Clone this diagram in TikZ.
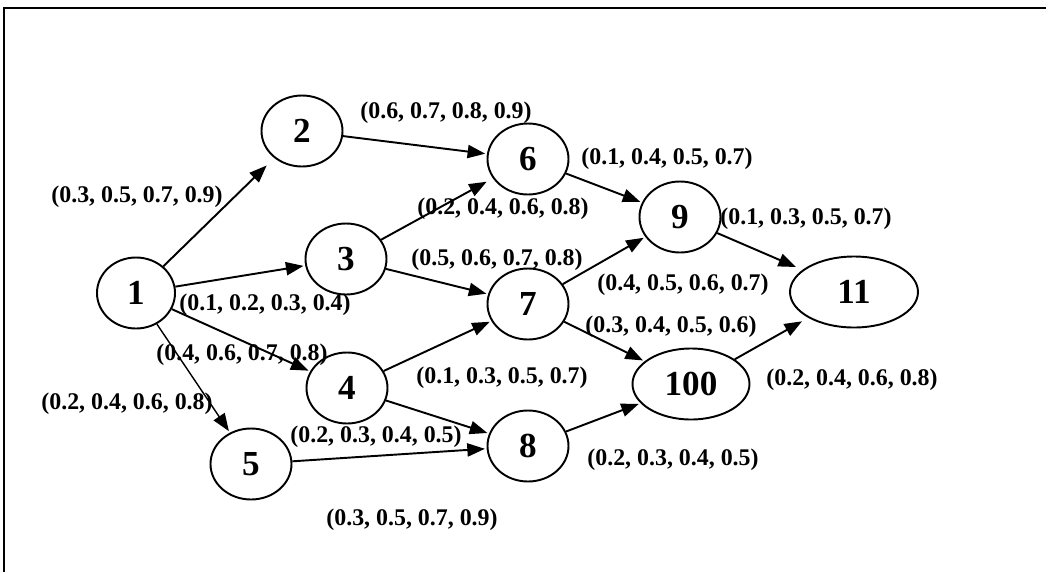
\documentclass[tikz,border=0pt]{standalone}
\usepackage{fontspec}
\setmainfont{Liberation Serif}
\usetikzlibrary{shapes.geometric,arrows.meta}
\begin{document}
\begin{tikzpicture}[x=0.02cm,y=-0.02cm,
	ev/.style={draw,ellipse,line width=1.1pt,inner sep=0pt,minimum width=81*0.02cm,minimum height=71*0.02cm,font=\fontsize{20}{22}\selectfont\bfseries},
	wt/.style={font=\fontsize{13.6}{15}\selectfont\bfseries,inner sep=0pt},
	arr/.style={-{Triangle[length=10pt,width=7.5pt]},line width=1.1pt,shorten >=1pt}]
			\useasboundingbox(0,0)rectangle(1046,572);
			\draw[line width=1.2pt](4,572)--(4,8)--(1046,8);
			% events
			\node[ev,minimum width=78*0.02cm](n1)at(136,293){1};
			\node[ev](n2)at(302,131){2};
			\node[ev](n3)at(346,259){3};
			\node[ev](n4)at(347,388){4};
			\node[ev](n5)at(251,464){5};
			\node[ev](n6)at(528,159){6};
			\node[ev](n7)at(528,304){7};
			\node[ev](n8)at(528,446){8};
			\node[ev](n9)at(680,217){9};
			\node[ev,minimum width=117*0.02cm](n100)at(691,384){100};
			\node[ev,minimum width=128*0.02cm](n11)at(854,292){11};
			% activities
			\draw[arr,shorten >=6pt](n1)--(n2);
			\draw[arr](n1)--(n3);
			\draw[arr](n1)--(n4);
			\draw[arr,line width=0.8pt](n1)--(n5);
			\draw[arr](n2)--(n6);
			\draw[arr,shorten >=4pt](n3)--(n6);
			\draw[arr](n3)--(n7);
			\draw[arr](n4)--(n7);
			\draw[arr](n4)--(n8);
			\draw[arr](n5)--(n8);
			\draw[arr](n6)--(n9);
			\draw[arr](n7)--(n9);
			\draw[arr](n7)--(n100);
			\draw[arr](n8)--(n100);
			\draw[arr,shorten >=4pt](n9)--(n11);
			\draw[arr,shorten >=4pt](n100)--(n11);
			% weights
			\node[wt](w12)at(137,197){(0.3, 0.5, 0.7, 0.9)};
			\node[wt](w13)at(265,305){(0.1, 0.2, 0.3, 0.4)};
			\node[wt](w14)at(242,355){(0.4, 0.6, 0.7, 0.8)};
			\node[wt](w15)at(127,404){(0.2, 0.4, 0.6, 0.8)};
			\node[wt](w26)at(446,113){(0.6, 0.7, 0.8, 0.9)};
			\node[wt](w36)at(503,209){(0.2, 0.4, 0.6, 0.8)};
			\node[wt](w37)at(497,260){(0.5, 0.6, 0.7, 0.8)};
			\node[wt](w47)at(502,378){(0.1, 0.3, 0.5, 0.7)};
			\node[wt](w48)at(376,437){(0.2, 0.3, 0.4, 0.5)};
			\node[wt](w58)at(412,520){(0.3, 0.5, 0.7, 0.9)};
			\node[wt](w69)at(667,159){(0.1, 0.4, 0.5, 0.7)};
			\node[wt](w79)at(683,285){(0.4, 0.5, 0.6, 0.7)};
			\node[wt](w7h)at(671,327){(0.3, 0.4, 0.5, 0.6)};
			\node[wt](w8h)at(673,460){(0.2, 0.3, 0.4, 0.5)};
			\node[wt](w9e)at(806,219){(0.1, 0.3, 0.5, 0.7)};
			\node[wt](whe)at(852,380){(0.2, 0.4, 0.6, 0.8)};
			\end{tikzpicture}
\end{document}
